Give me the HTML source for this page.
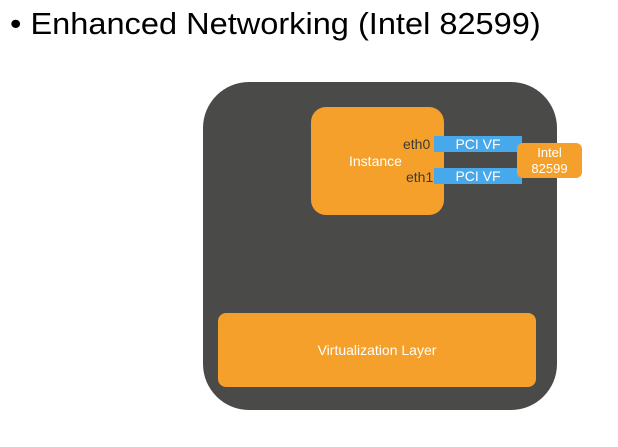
<!DOCTYPE html>
<html><head><style>
body{margin:0;width:618px;height:447px;background:#fff;position:relative;overflow:hidden;font-family:"Liberation Sans",sans-serif}
div{position:absolute;box-sizing:border-box}
.t{left:10px;top:6px;font-size:31px;color:#000;white-space:nowrap;transform-origin:left top;transform:scaleX(1.05)}
.dark{left:203px;top:82px;width:354px;height:328px;background:#4a4a48;border-radius:46px}
.inst{left:311px;top:107px;width:133px;height:108px;background:#f5a02a;border-radius:15px;color:#fff;font-size:14px}
.bar{left:434px;width:88px;height:16px;background:#47a9ec;color:#fff;font-size:14px;text-align:center;line-height:16px}
.intel{left:517px;top:143px;width:65px;height:35px;background:#f5a02a;border-radius:6px;color:#fff;font-size:13px;text-align:center;line-height:16px;padding-top:2px}
.eth{font-size:14px;color:#3a3a3a;}
.virt{left:218px;top:313px;width:318px;height:74px;background:#f5a02a;border-radius:8px;color:#fff;font-size:14px;text-align:center;line-height:74px}
</style></head><body>
<div class="t">• Enhanced Networking (Intel 82599)</div>
<div class="dark"></div>
<div class="inst"><div style="left:38px;top:46px">Instance</div><div class="eth" style="left:92px;top:29px">eth0</div><div class="eth" style="left:95px;top:62px">eth1</div></div>
<div class="bar" style="top:136px">PCI VF</div>
<div class="bar" style="top:168px">PCI VF</div>
<div class="intel">Intel<br>82599</div>
<div class="virt">Virtualization Layer</div>
</body></html>
